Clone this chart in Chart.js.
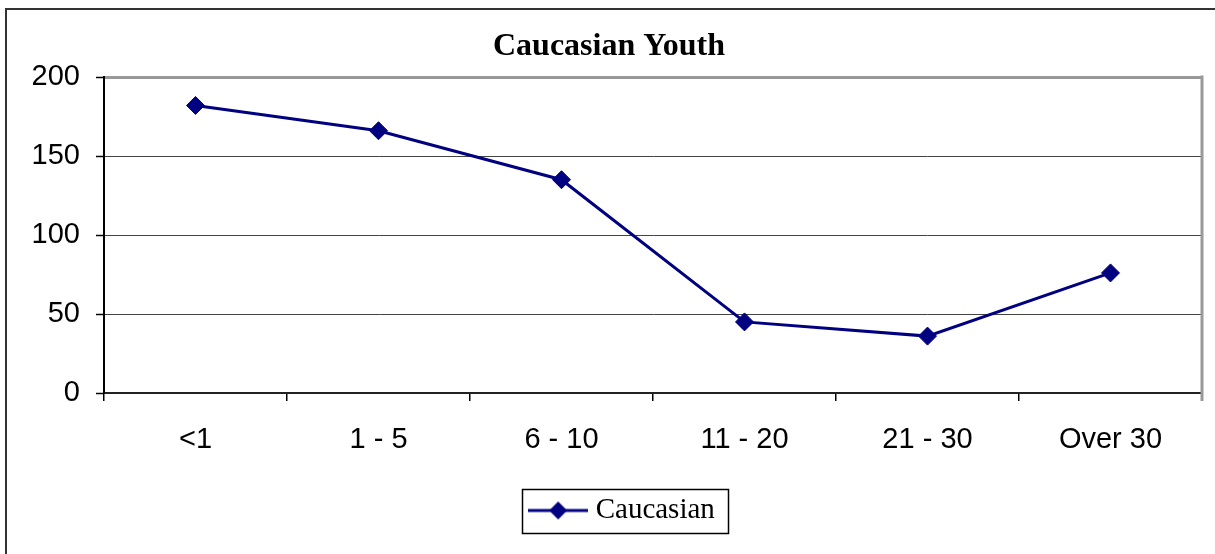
<!DOCTYPE html>
<html>
<head>
<meta charset="utf-8">
<style>
html,body{margin:0;padding:0;background:#fff;}
#wrap{position:relative;width:1215px;height:554px;}
</style>
<script src="https://cdn.jsdelivr.net/npm/chart.js@4.4.1/dist/chart.umd.min.js"></script>
</head>
<body>
<div id="wrap"><canvas id="c" width="1215" height="554"></canvas></div>
<script>
const categories = ['<1', '1 - 5', '6 - 10', '11 - 20', '21 - 30', 'Over 30'];
const caucasian = [182, 166, 135, 45, 36, 76];
const yTicks = [0, 50, 100, 150, 200];
const seriesName = 'Caucasian';
const chartTitle = 'Caucasian Youth';
const NAVY = '#000080';

// legend symbol: line with diamond
function legendSymbol() {
  const cv = document.createElement('canvas');
  cv.width = 60; cv.height = 20;
  const g = cv.getContext('2d');
  g.strokeStyle = NAVY; g.lineWidth = 3;
  g.beginPath(); g.moveTo(0, 10); g.lineTo(60, 10); g.stroke();
  g.fillStyle = NAVY;
  g.beginPath(); g.moveTo(30, 1); g.lineTo(39, 10); g.lineTo(30, 19); g.lineTo(21, 10); g.closePath(); g.fill();
  return cv;
}
const sym = legendSymbol();

const boxShift = {
  id: 'boxShift',
  beforeDraw(chart) {
    const lg = chart.legend;
    if (lg && !lg._shifted) {
      lg.left += 21; lg.right += 21;
      (lg.legendHitBoxes || []).forEach(h => { h.left += 21; });
      lg._shifted = true;
    }
    const tb = chart.titleBlock;
    if (tb && !tb._shifted) {
      tb.left += 5; tb.right += 5;
      tb._shifted = true;
    }
  }
};

const framePlugin = {
  id: 'frame',
  afterDraw(chart) {
    const ctx = chart.ctx;
    const a = chart.chartArea;
    ctx.save();
    // outer frame (left and top visible)
    ctx.strokeStyle = '#333';
    ctx.lineWidth = 2;
    ctx.strokeRect(6, 9, 1230, 600);
    // plot area right border
    ctx.strokeStyle = '#999';
    ctx.lineWidth = 3;
    ctx.beginPath();
    ctx.moveTo(a.right, a.top - 1.5);
    ctx.lineTo(a.right, a.bottom + 8);
    ctx.stroke();
    // legend box
    const lg = chart.legend;
    if (lg && lg.legendHitBoxes && lg.legendHitBoxes.length) {
      const hb = lg.legendHitBoxes[0];
      const cy = hb.top + hb.height / 2;
      ctx.strokeStyle = '#000';
      ctx.lineWidth = 1.5;
      ctx.strokeRect(Math.round(hb.left - 13) + 0.5, Math.round(cy - 22) + 0.5, Math.round(hb.width + 26), 44);
    }
    ctx.restore();
  }
};

new Chart(document.getElementById('c'), {
  type: 'line',
  data: {
    labels: categories,
    datasets: [{
      label: seriesName,
      data: caucasian,
      borderColor: NAVY,
      backgroundColor: NAVY,
      borderWidth: 3,
      pointStyle: 'rectRot',
      pointRadius: 9,
      pointHoverRadius: 9,
      pointBackgroundColor: NAVY,
      pointBorderColor: NAVY,
      pointBorderWidth: 1,
      tension: 0,
      fill: false
    }]
  },
  options: {
    responsive: false,
    animation: false,
    devicePixelRatio: 1,
    layout: { padding: { top: 8, left: 6, right: 13, bottom: 19 } },
    plugins: {
      tooltip: { enabled: false },
      title: {
        display: true,
        text: chartTitle,
        color: '#000',
        font: { family: '"Liberation Serif", "Times New Roman", serif', size: 32, weight: 'bold', lineHeight: 1.2 },
        padding: { top: 20, bottom: 10.6 }
      },
      legend: {
        display: true,
        position: 'bottom',
        labels: {
          usePointStyle: true,
          pointStyleWidth: 46,
          color: '#000',
          padding: 10,
          font: { family: '"Liberation Serif", "Times New Roman", serif', size: 29 },
          generateLabels(chart) {
            return [{
              text: seriesName,
              pointStyle: sym,
              fillStyle: NAVY,
              strokeStyle: NAVY,
              lineWidth: 0,
              hidden: false,
              datasetIndex: 0
            }];
          }
        }
      }
    },
    scales: {
      x: {
        offset: true,
        afterFit(s) { s.height = 93; },
        grid: {
          offset: true,
          drawOnChartArea: false,
          drawTicks: true,
          tickLength: 8,
          color: '#000',
          lineWidth: 1.5
        },
        border: { display: true, color: '#222', width: 2 },
        ticks: {
          color: '#000',
          padding: 22,
          maxRotation: 0,
          font: { family: '"Liberation Sans", Arial, sans-serif', size: 29 }
        }
      },
      y: {
        min: 0,
        max: 200,
        afterFit(s) { s.width = 98; },
        afterBuildTicks(s) { s.ticks = yTicks.map(v => ({ value: v })); },
        grid: {
          drawOnChartArea: true,
          drawTicks: true,
          tickLength: 8,
          color: (c) => (c.tick && c.tick.value === 200) ? '#999' : '#444',
          lineWidth: (c) => (c.tick && c.tick.value === 200) ? 3 : 1,
          tickColor: '#000',
          tickWidth: 1.5
        },
        border: { display: true, color: '#000', width: 2 },
        ticks: {
          color: '#000',
          padding: 16,
          font: { family: '"Liberation Sans", Arial, sans-serif', size: 29 }
        }
      }
    }
  },
  plugins: [boxShift, framePlugin]
});
</script>
</body>
</html>
